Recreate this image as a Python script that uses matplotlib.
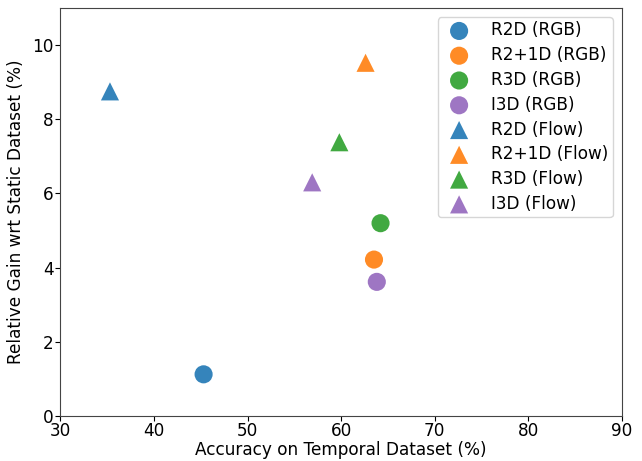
import matplotlib
matplotlib.use("Agg")
import matplotlib.pyplot as plt

models = ['R2D', 'R2+1D', 'R3D', 'I3D']
colors = ['#1f77b4', '#ff7f0e', '#2ca02c', '#9467bd']

# accuracy on temporal dataset (%), relative gain (%)
rgb_acc = [45.3, 63.5, 64.2, 63.8]
rgb_gain = [1.13, 4.22, 5.2, 3.62]
flow_acc = [35.3, 62.6, 59.8, 56.9]
flow_gain = [8.75, 9.52, 7.38, 6.3]

fig, ax = plt.subplots(figsize=(6.42, 4.61), dpi=100)

for i, m in enumerate(models):
    ax.scatter(rgb_acc[i], rgb_gain[i], s=170, marker='o', color=colors[i],
               alpha=0.9, edgecolors='none', label=m + ' (RGB)')
for i, m in enumerate(models):
    ax.scatter(flow_acc[i], flow_gain[i], s=170, marker='^', color=colors[i],
               alpha=0.9, edgecolors='none', label=m + ' (Flow)')

ax.set_xlim(30, 90)
ax.set_ylim(0, 11)
ax.set_xticks(range(30, 91, 10))
ax.set_yticks(range(0, 11, 2))
ax.tick_params(labelsize=12.2, length=3.5, pad=1.5)
ax.tick_params(axis='x', pad=0.5)
for s in ax.spines.values():
    s.set_color('#444444')
ax.set_xlabel('Accuracy on Temporal Dataset (%)', fontsize=12.2, labelpad=1)
ax.set_ylabel('Relative Gain wrt Static Dataset (%)', fontsize=12.2, labelpad=5)
ax.legend(fontsize=12.2, loc='upper right', labelspacing=0.4,
          handlelength=2.0, handletextpad=0.9, borderpad=0.25,
          borderaxespad=0.55)

plt.subplots_adjust(left=0.094, right=0.969, top=0.983, bottom=0.097)
plt.savefig('out.png')
